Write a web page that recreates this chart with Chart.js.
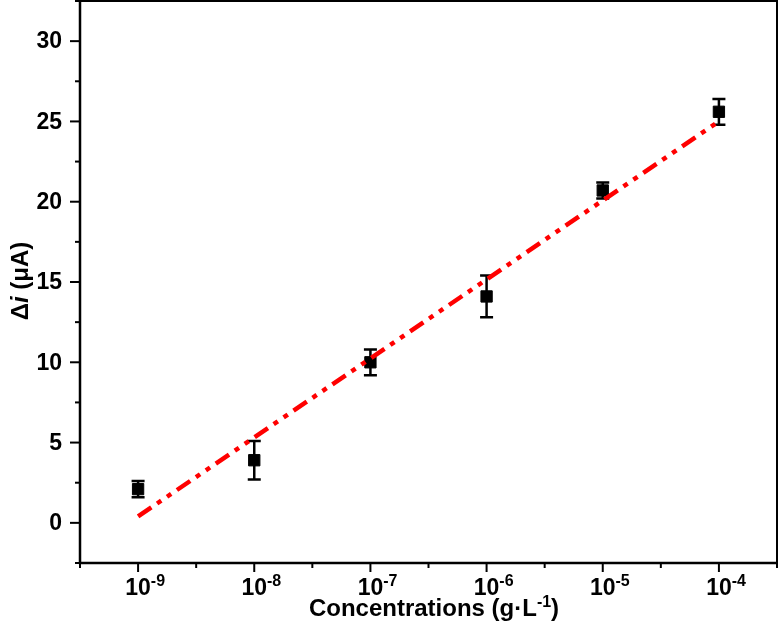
<!DOCTYPE html>
<html>
<head>
<meta charset="utf-8">
<script src="https://cdn.jsdelivr.net/npm/chart.js@4.4.1/dist/chart.umd.min.js"></script>
<style>
  html, body { margin: 0; padding: 0; background: #ffffff; }
  #wrap { width: 780px; height: 627px; position: relative; }
</style>
</head>
<body>
<div id="wrap"><canvas id="calib"></canvas></div>
<script>
// Calibration data: log10 of concentration (g/L) vs current change
const exponents = [-9, -8, -7, -6, -5, -4];
const deltaI = [2.1, 3.9, 10.0, 14.1, 20.7, 25.6];
const errorBars = [0.5, 1.2, 0.8, 1.3, 0.5, 0.8];

// Fitted line end points
const fitX = [-9, -4];
const fitY = [0.4, 25.0];

// Axis ranges / ticks
const xRange = [-9.5, -3.5];
const yRange = [-2.5, 32.5];
const yTickLabels = [0, 5, 10, 15, 20, 25, 30];

const FONT = '"Liberation Sans", Arial, sans-serif';

const pointData = exponents.map((e, i) => ({ x: e, y: deltaI[i] }));
const fitData = fitX.map((e, i) => ({ x: e, y: fitY[i] }));

// Error bars, drawn under the markers
const errorBarPlugin = {
    id: 'errorBars',
    beforeDatasetsDraw(chart) {
        const ctx = chart.ctx;
        const xs = chart.scales.x, ys = chart.scales.y;
        ctx.save();
        ctx.strokeStyle = '#000';
        ctx.lineWidth = 2.5;
        exponents.forEach((e, i) => {
            const px = xs.getPixelForValue(e);
            const top = ys.getPixelForValue(deltaI[i] + errorBars[i]);
            const bot = ys.getPixelForValue(deltaI[i] - errorBars[i]);
            ctx.beginPath();
            ctx.moveTo(px, top); ctx.lineTo(px, bot);
            ctx.moveTo(px - 6.5, top); ctx.lineTo(px + 6.5, top);
            ctx.moveTo(px - 6.5, bot); ctx.lineTo(px + 6.5, bot);
            ctx.stroke();
        });
        ctx.restore();
    }
};

// Origin-style frame, ticks and labels
const framePlugin = {
    id: 'frame',
    afterDraw(chart) {
        const ctx = chart.ctx;
        const a = chart.chartArea;
        const xs = chart.scales.x, ys = chart.scales.y;
        ctx.save();
        ctx.strokeStyle = '#000';

        // top + right border
        ctx.lineWidth = 2;
        ctx.beginPath();
        ctx.moveTo(a.left, a.top); ctx.lineTo(a.right, a.top); ctx.lineTo(a.right, a.bottom);
        ctx.stroke();

        // left + bottom axes
        ctx.lineWidth = 2.5;
        ctx.beginPath();
        ctx.moveTo(a.left, a.top); ctx.lineTo(a.left, a.bottom); ctx.lineTo(a.right, a.bottom);
        ctx.stroke();

        // x ticks (major at decades, minor halfway)
        ctx.lineWidth = 2;
        xs.ticks.forEach(t => {
            const px = xs.getPixelForValue(t.value);
            const major = Number.isInteger(t.value);
            ctx.beginPath();
            ctx.moveTo(px, a.bottom);
            ctx.lineTo(px, a.bottom + (major ? 9 : 5));
            ctx.stroke();
        });
        // y ticks
        ys.ticks.forEach(t => {
            const py = ys.getPixelForValue(t.value);
            const major = t.value % 5 === 0;
            ctx.beginPath();
            ctx.moveTo(a.left, py);
            ctx.lineTo(a.left - (major ? 10 : 5), py);
            ctx.stroke();
        });

        ctx.fillStyle = '#000';
        // y tick labels
        ctx.font = 'bold 23px ' + FONT;
        ctx.textAlign = 'right';
        ctx.textBaseline = 'middle';
        yTickLabels.forEach(v => {
            ctx.fillText(String(v), a.left - 18, ys.getPixelForValue(v) + 1);
        });

        // x tick labels: 10 with superscript exponent
        ctx.textBaseline = 'alphabetic';
        ctx.textAlign = 'left';
        exponents.forEach(e => {
            const px = xs.getPixelForValue(e);
            ctx.font = 'bold 23px ' + FONT;
            const w = ctx.measureText('10').width;
            ctx.fillText('10', px - w / 2, 595);
            ctx.font = 'bold 16px ' + FONT;
            ctx.fillText(String(e), px + w / 2, 586);
        });

        // x title
        const t1 = 'Concentrations (g\u00b7L', t2 = '-1', t3 = ')';
        ctx.font = 'bold 24px ' + FONT;
        const w1 = ctx.measureText(t1).width, w3 = ctx.measureText(t3).width;
        ctx.font = 'bold 16px ' + FONT;
        const w2 = ctx.measureText(t2).width;
        let x0 = 434 - (w1 + w2 + w3) / 2;
        ctx.font = 'bold 24px ' + FONT;
        ctx.fillText(t1, x0, 616);
        ctx.font = 'bold 16px ' + FONT;
        ctx.fillText(t2, x0 + w1, 607);
        ctx.font = 'bold 24px ' + FONT;
        ctx.fillText(t3, x0 + w1 + w2, 616);

        // y title, rotated
        ctx.translate(28, 281);
        ctx.rotate(-Math.PI / 2);
        const parts = [['\u0394', 'bold 24px '], ['i', 'italic bold 24px '], [' (\u03bcA)', 'bold 24px ']];
        let total = 0;
        parts.forEach(p => { ctx.font = p[1] + FONT; total += ctx.measureText(p[0]).width; });
        let cx = -total / 2;
        parts.forEach(p => {
            ctx.font = p[1] + FONT;
            ctx.fillText(p[0], cx, 0);
            cx += ctx.measureText(p[0]).width;
        });
        ctx.restore();
    }
};

new Chart(document.getElementById('calib'), {
    type: 'scatter',
    data: {
        datasets: [
            {
                label: 'Linear fit',
                data: fitData,
                showLine: true,
                borderColor: '#ff0000',
                borderWidth: 4.5,
                borderDash: [16, 7, 5, 7, 5, 7],
                borderCapStyle: 'butt',
                pointRadius: 0,
                order: 0
            },
            {
                label: 'Delta i',
                data: pointData,
                pointStyle: 'rect',
                pointRadius: 8,
                backgroundColor: '#000',
                borderColor: '#000',
                borderWidth: 1,
                order: 1
            }
        ]
    },
    options: {
        responsive: true,
        maintainAspectRatio: false,
        animation: false,
        devicePixelRatio: 1,
        layout: { autoPadding: false, padding: { left: 80, right: 3, top: 1, bottom: 64 } },
        plugins: {
            legend: { display: false },
            tooltip: { enabled: false }
        },
        scales: {
            x: {
                type: 'linear',
                display: false,
                min: xRange[0],
                max: xRange[1],
                ticks: { stepSize: 0.5 }
            },
            y: {
                type: 'linear',
                display: false,
                min: yRange[0],
                max: yRange[1],
                ticks: { stepSize: 2.5 }
            }
        }
    },
    plugins: [errorBarPlugin, framePlugin]
});
</script>
</body>
</html>
